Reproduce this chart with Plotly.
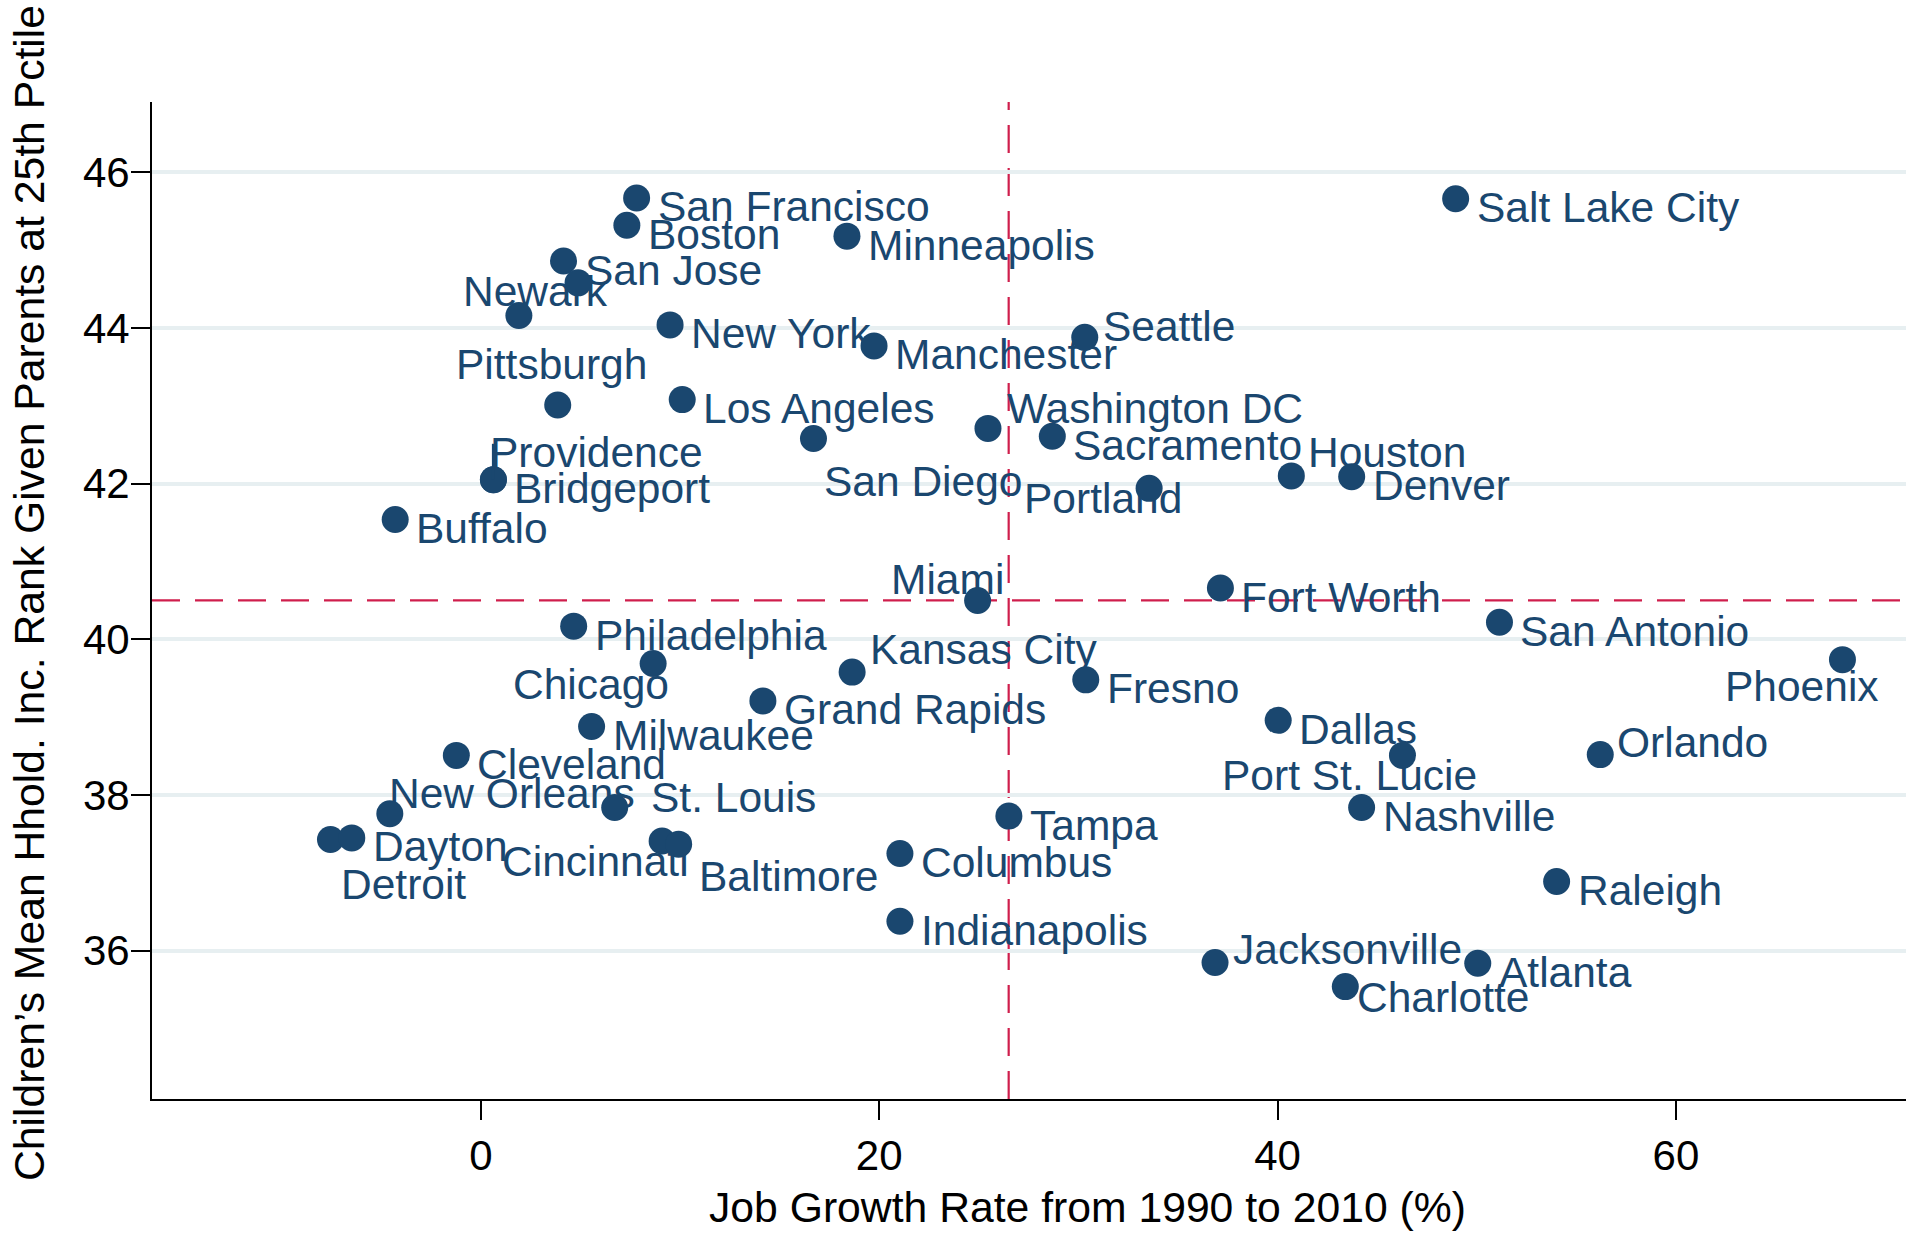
import plotly.graph_objects as go

# ---------------- data ----------------
cities = ["San Francisco", "Boston", "San Jose", "", "Newark", "New York", "Minneapolis",
          "Manchester", "Seattle", "Salt Lake City", "Pittsburgh", "Los Angeles", "San Diego",
          "Washington DC", "Sacramento", "Houston", "Denver", "Portland", "Providence",
          "Bridgeport", "Buffalo", "Miami", "Fort Worth", "Philadelphia", "San Antonio",
          "Chicago", "Kansas City", "Fresno", "Phoenix", "Grand Rapids", "Milwaukee", "Dallas",
          "Port St. Lucie", "Orlando", "Cleveland", "New Orleans", "St. Louis", "Nashville",
          "Tampa", "Detroit", "Dayton", "Cincinnati", "Baltimore", "Columbus", "Raleigh",
          "Indianapolis", "Jacksonville", "Atlanta", "Charlotte"]

job_growth = [7.82, 7.33, 4.15, 4.88, 1.91, 9.50, 18.38, 19.74, 30.32, 48.94,
              3.86, 10.11, 16.70, 25.46, 28.69, 40.69, 43.72, 33.55, 0.63, 0.63,
              -4.30, 24.94, 37.13, 4.66, 51.14, 8.65, 18.64, 30.37, 68.36, 14.16,
              5.56, 40.03, 46.27, 56.20, -1.23, -4.57, 6.72, 44.22, 26.51, -7.55,
              -6.48, 9.10, 9.93, 21.04, 54.01, 21.04, 36.86, 50.05, 43.40]

mobility = [45.67, 45.32, 44.86, 44.58, 44.16, 44.04, 45.18, 43.77, 43.88, 45.66,
            43.01, 43.08, 42.58, 42.71, 42.61, 42.10, 42.09, 41.94, 42.05, 42.05,
            41.54, 40.50, 40.66, 40.17, 40.22, 39.69, 39.58, 39.48, 39.74, 39.21,
            38.88, 38.96, 38.51, 38.52, 38.51, 37.76, 37.84, 37.84, 37.73, 37.43,
            37.45, 37.41, 37.37, 37.25, 36.89, 36.38, 35.85, 35.84, 35.54]

mean_job_growth = 26.5
mean_mobility = 40.5

x_ticks = [0, 20, 40, 60]
y_ticks = [36, 38, 40, 42, 44, 46]

x_title = "Job Growth Rate from 1990 to 2010 (%)"
y_title = "Children\u2019s Mean Hhold. Inc. Rank Given Parents at 25th Pctile"

# ---------------- styles ----------------
NAVY = "#1a476f"
RED = "#cf1e4c"
FONT = "Liberation Sans, Arial, Helvetica, sans-serif"
LABEL_SIZE = 42.5
TITLE_SIZE = 42.7
TICK_SIZE = 42

# label placement: (anchor, xshift px, yshift px)
default_label = ("left", 21, -9)
label_style = {
    "Seattle": ("left", 18, 11),
    "Jacksonville": ("left", 18, 13),
    "Orlando": ("left", 17, 12),
    "Washington DC": ("left", 19, 20),
    "Houston": ("left", 17, 23),
    "Kansas City": ("left", 18, 23),
    "Newark": ("center", 17, 24),
    "Pittsburgh": ("center", -6, 41),
    "Providence": ("left", -3, 27),
    "San Diego": ("left", 11, -43),
    "Detroit": ("left", 11, -45),
    "Portland": ("right", 33, -10),
    "Miami": ("right", 26, 21),
    "Chicago": ("right", 16, -21),
    "Cincinnati": ("right", 27, -20),
    "Baltimore": ("left", 20, -32),
    "New Orleans": ("left", -1, 20),
    "St. Louis": ("left", 36, 10),
    "Phoenix": ("right", 37, -27),
    "Port St. Lucie": ("center", -53, -20),
    "Charlotte": ("left", 12, -11),
}

fig = go.Figure()

fig.add_trace(go.Scatter(
    x=job_growth, y=mobility, mode="markers",
    marker=dict(size=27, color=NAVY, line=dict(width=0)),
    text=cities, hoverinfo="text+x+y", showlegend=False,
))

annotations = []
for name, xv, yv in zip(cities, job_growth, mobility):
    if not name:
        continue
    anchor, dx, dy = label_style.get(name, default_label)
    annotations.append(dict(
        x=xv, y=yv, xref="x", yref="y", text=name, showarrow=False,
        xanchor=anchor, yanchor="middle", xshift=dx, yshift=dy,
        borderpad=0, borderwidth=0,
        font=dict(family=FONT, size=LABEL_SIZE, color=NAVY),
    ))

# axis titles
annotations.append(dict(
    x=0.5335, y=0, xref="paper", yref="paper", text=x_title, showarrow=False,
    xanchor="center", yanchor="middle", yshift=-108, borderpad=0, borderwidth=0,
    font=dict(family=FONT, size=TITLE_SIZE, color="black"),
))
annotations.append(dict(
    x=0, y=0.5075, xref="paper", yref="paper", text=y_title, showarrow=False,
    textangle=-90, xanchor="center", yanchor="middle", xshift=-123,
    borderpad=0, borderwidth=0,
    font=dict(family=FONT, size=TITLE_SIZE, color="black"),
))

shapes = [
    dict(type="line", xref="paper", yref="y", x0=0, x1=1, y0=mean_mobility, y1=mean_mobility,
         line=dict(color=RED, width=2.2, dash="28px,15px"), layer="between"),
    dict(type="line", xref="x", yref="paper", x0=mean_job_growth, x1=mean_job_growth, y0=0, y1=1,
         line=dict(color=RED, width=2.2, dash="28px,15px"), layer="between"),
]
# connector from Providence marker to its label
prov_i = cities.index("Providence")
shapes.append(dict(
    type="line", xref="x", yref="y", xsizemode="pixel", ysizemode="pixel",
    xanchor=job_growth[prov_i], yanchor=mobility[prov_i],
    x0=0, x1=0, y0=0, y1=36, line=dict(color=NAVY, width=3), layer="above",
))

fig.update_layout(
    width=1906, height=1233,
    margin=dict(l=152, r=0, t=102, b=134, pad=0),
    paper_bgcolor="white", plot_bgcolor="white",
    font=dict(family=FONT, color="black"),
    annotations=annotations, shapes=shapes,
    xaxis=dict(
        range=[-16.51, 71.55], tickvals=x_ticks, ticktext=[str(v) for v in x_ticks],
        showgrid=False, zeroline=False, showline=True, linecolor="black", linewidth=2,
        ticks="outside", ticklen=19, tickwidth=2, tickcolor="black",
        tickfont=dict(family=FONT, size=TICK_SIZE, color="black"),
    ),
    yaxis=dict(
        range=[34.096, 46.903], tickvals=y_ticks, ticktext=[str(v) for v in y_ticks],
        showgrid=True, gridcolor="#e7eff1", gridwidth=4, zeroline=False,
        showline=True, linecolor="black", linewidth=2,
        ticks="outside", ticklen=19, tickwidth=2, tickcolor="black",
        ticklabelstandoff=-7,
        tickfont=dict(family=FONT, size=TICK_SIZE, color="black"),
    ),
)

fig.write_html("out.html", config={"displayModeBar": False},
               post_script="document.body.style.margin='0';")
